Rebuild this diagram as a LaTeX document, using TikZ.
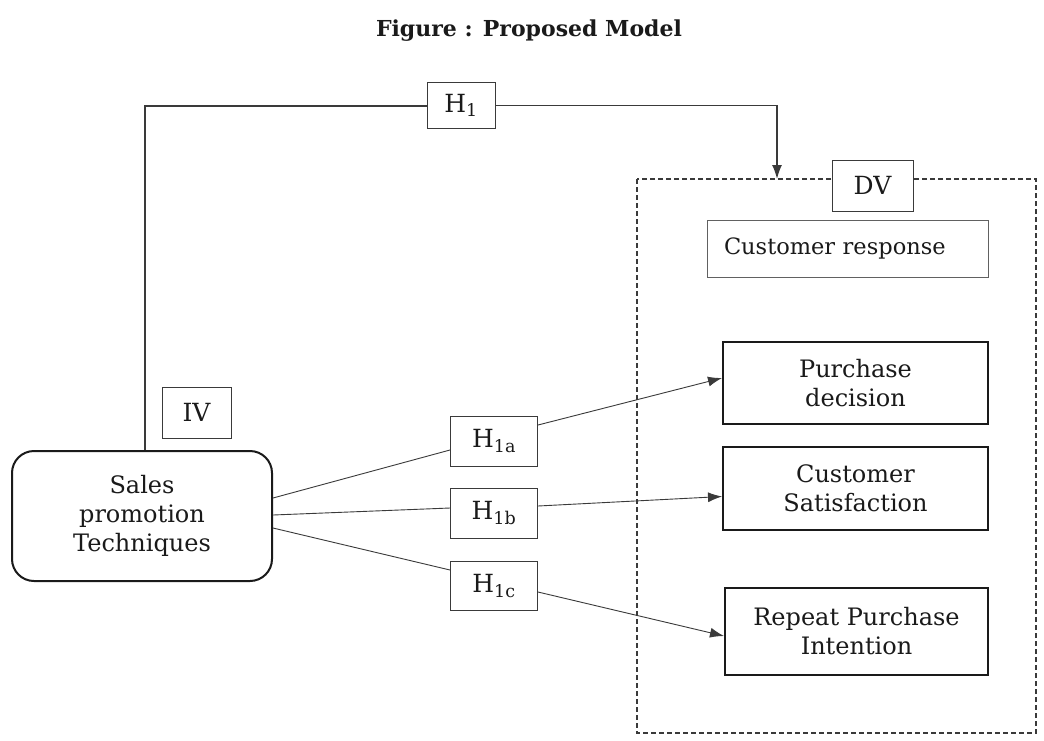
\documentclass[tikz,border=0pt]{standalone}
\usepackage{fontspec}
\setmainfont{DejaVu Serif}
\usetikzlibrary{arrows.meta,calc}
\definecolor{ink}{HTML}{1A1A1A}
\definecolor{linec}{HTML}{3A3A3A}
\begin{document}
\begin{tikzpicture}[x=1pt,y=-1pt,
  txt/.style={font=\fontsize{24}{29}\selectfont, text=ink, align=center},
  hbox/.style={draw=linec, line width=1pt, fill=white, inner sep=0pt, font=\fontsize{25}{28}\selectfont, text=ink},
  tbox/.style={draw=ink, line width=2pt, fill=white, inner sep=0pt, txt},
  conn/.style={draw=linec, line width=0.9pt},
  arr/.style={conn, -{Latex[length=14pt,width=10pt]}}
]
\useasboundingbox (0,0) rectangle (1044,740);
\fill[white] (0,0) rectangle (1044,740);

\node[font=\bfseries\fontsize{22}{26}\selectfont, text=ink] (title) at (529,31) {Figure : Proposed Model};

% dashed DV region
\draw[draw=linec, line width=1.2pt, dash pattern=on 5pt off 3pt] (637,179) rectangle (1036,733);
\coordinate (dvtop) at (777,179);

\node[hbox, minimum width=81pt, minimum height=51pt] (dv) at (872.5,185.5) {DV};
\node[draw=linec!80, line width=1pt, fill=white, minimum width=281pt, minimum height=57pt, text width=247pt, inner xsep=17pt, inner ysep=0pt, align=left, font=\fontsize{22.5}{26}\selectfont, text=ink] (resp) at (847.5,248.5) {Customer response\raisebox{10pt}{}};

\node[tbox, minimum width=265pt, minimum height=82pt] (pd) at (855.5,383) {Purchase\\decision};
\node[tbox, minimum width=265pt, minimum height=83pt] (cs) at (855.5,488.5) {Customer\\Satisfaction};
\node[tbox, minimum width=263pt, minimum height=87pt] (rpi) at (856.5,631) {Repeat Purchase\\Intention};

\node[draw=ink, line width=2pt, rounded corners=22pt, fill=white, minimum width=260pt, minimum height=130pt, inner sep=0pt, txt] (sales) at (142,516) {Sales\\promotion\\Techniques};

\node[hbox, minimum width=69pt, minimum height=51pt] (iv) at (196.5,412.5) {IV};
\node[hbox, minimum width=68pt, minimum height=46pt] (h1) at (461,105.5) {H\textsubscript{1}};
\node[hbox, minimum width=87pt, minimum height=50pt] (h1a) at (494,441) {H\textsubscript{1a}};
\node[hbox, minimum width=87pt, minimum height=50pt] (h1b) at (494,513) {H\textsubscript{1b}};
\node[hbox, minimum width=87pt, minimum height=49pt] (h1c) at (494,586) {H\textsubscript{1c}};

% H1 path
\draw[draw=linec, line width=2pt] ([xshift=3pt]sales.north) |- (h1.west);
\draw[draw=linec, line width=1.6pt, -{Latex[length=14pt,width=10pt]}] (h1.east) -| (dvtop);

% H1a/b/c
\draw[conn] ([yshift=18pt]sales.east) -- ([yshift=-9pt]h1a.west);
\draw[arr] ([yshift=16pt]h1a.east) -- ([yshift=5pt]pd.west);
\draw[conn] ([yshift=1pt]sales.east) -- ([yshift=5pt]h1b.west);
\draw[arr] ([yshift=7pt]h1b.east) -- ([yshift=-8pt]cs.west);
\draw[conn] ([yshift=-12pt]sales.east) -- ([yshift=16pt]h1c.west);
\draw[arr] ([yshift=-6pt]h1c.east) -- ([yshift=-5pt]rpi.west);
\end{tikzpicture}
\end{document}
